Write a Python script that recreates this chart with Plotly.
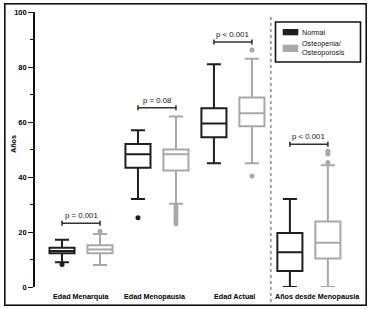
import plotly.graph_objects as go

# ---- data ----
categories = ["Edad Menarquia", "Edad Menopausia", "Edad Actual", "Años desde Menopausia"]
groups = ["Normal", "Osteopenia/<br>Osteoporosis"]

normal_low = [9, 32, 45, 0]
normal_q1 = [12.3, 43.4, 54.5, 5.8]
normal_med = [13.1, 48.3, 59.5, 12.6]
normal_q3 = [14.3, 52, 65, 19.6]
normal_high = [17.2, 57, 81, 32]
normal_out = [[8.2], [25.2], [], []]

osteo_low = [8, 30.3, 45, 0]
osteo_q1 = [12.3, 42.4, 58.5, 10.4]
osteo_med = [13.6, 48.3, 63.2, 16.1]
osteo_q3 = [15.2, 50, 68.9, 23.8]
osteo_high = [19.3, 62, 83, 44.3]
osteo_out = [[20.3], [23, 24, 25, 26, 27, 28, 29.3], [86.2, 40.4], [45.3, 48.4, 49.4]]

p_texts = ["p = 0.001", "p = 0.08", "p < 0.001", "p < 0.001"]
p_heights = [23.2, 65.2, 89.1, 51.9]

y_ticks = [0, 20, 40, 60, 80, 100]

# ---- style ----
DARK = "#1e1e1e"
GRAY = "#a8a8a8"
FONT = "Liberation Sans"
W, H = 372, 309
ML, MR, MT, MB = 35, 5, 12, 22
PW, PH = W - ML - MR, H - MT - MB

def px_x(p):
    return (p - ML) / PW

def px_y(p):
    return (H - MB - p) / PH

fig = go.Figure()

for i, cat in enumerate(categories):
    xn = 2 * i
    xo = 2 * i + 1
    for x, col, low, q1, med, q3, high, outs in [
        (xn, DARK, normal_low, normal_q1, normal_med, normal_q3, normal_high, normal_out),
        (xo, GRAY, osteo_low, osteo_q1, osteo_med, osteo_q3, osteo_high, osteo_out),
    ]:
        fig.add_trace(go.Box(
            x=[x], q1=[q1[i]], median=[med[i]], q3=[q3[i]],
            lowerfence=[low[i]], upperfence=[high[i]],
            fillcolor="white", line=dict(color=col, width=2),
            width=0.66, whiskerwidth=0.56, boxpoints=False,
            showlegend=False, hoverinfo="skip",
        ))
        if outs[i]:
            fig.add_trace(go.Scatter(
                x=[x] * len(outs[i]), y=outs[i], mode="markers",
                marker=dict(color=col, size=5), showlegend=False, hoverinfo="skip",
            ))
    # p-value bracket
    h = p_heights[i]
    fig.add_shape(type="line", x0=xn, x1=xo, y0=h, y1=h, line=dict(color="#333333", width=1.6))
    for xe in (xn, xo):
        fig.add_shape(type="line", x0=xe, x1=xe, y0=h - 0.9, y1=h + 0.9,
                      line=dict(color="#333333", width=1.6))
    fig.add_annotation(x=(xn + xo) / 2, y=h, text=p_texts[i], showarrow=False,
                       yanchor="bottom", yshift=1,
                       font=dict(family=FONT, size=7.8, color="#111111"))

# category labels
label_x = [0.52, 2.45, 4.53, 6.72]
for lx, cat in zip(label_x, categories):
    fig.add_annotation(x=lx, y=px_y(296), yref="paper", yanchor="middle", text="<b>" + cat + "</b>",
                       showarrow=False, font=dict(family=FONT, size=7.2, color="#000000"))

# y title
fig.add_annotation(x=px_x(13), xref="paper", y=px_y(144), yref="paper", text="<b>Años</b>",
                   xanchor="center", yanchor="middle",
                   textangle=-90, showarrow=False, font=dict(family=FONT, size=7.2, color="#000000"))

# dotted separator
fig.add_shape(type="line", x0=5.5, x1=5.5, y0=px_y(302), y1=px_y(15), yref="paper",
              line=dict(color="#555555", width=1, dash="dot"))

# outer frame (bordered empty annotation)
fig.add_annotation(x=px_x(185.5), xref="paper", y=px_y(154.5), yref="paper",
                   xanchor="center", yanchor="middle", text=" ", showarrow=False,
                   width=360, height=300, bordercolor="#111111", borderwidth=1.6, borderpad=0)

# legend
fig.add_shape(type="rect", xref="paper", yref="paper",
              x0=px_x(275.5), x1=px_x(360.5), y0=px_y(62), y1=px_y(22),
              line=dict(color="#111111", width=1.6), fillcolor="white")
for (y0, y1, col) in [(29, 35.3, DARK), (44.7, 52, GRAY)]:
    fig.add_shape(type="rect", xref="paper", yref="paper",
                  x0=px_x(282.7), x1=px_x(298.3), y0=px_y(y1), y1=px_y(y0),
                  line=dict(width=0), fillcolor=col)
fig.add_annotation(x=px_x(300), xref="paper", y=px_y(32), yref="paper", text=groups[0],
                   xanchor="left", yanchor="middle", showarrow=False,
                   font=dict(family=FONT, size=7.2, color="#111111"))
fig.add_annotation(x=px_x(300), xref="paper", y=px_y(48.5), yref="paper", text=groups[1],
                   xanchor="left", yanchor="middle", align="left", showarrow=False,
                   font=dict(family=FONT, size=7.2, color="#111111"))

fig.update_layout(
    width=W, height=H, margin=dict(l=ML, r=MR, t=MT, b=MB),
    plot_bgcolor="white", paper_bgcolor="white", showlegend=False,
    xaxis=dict(range=[-0.711, 8.03], visible=False),
    yaxis=dict(range=[0, 100], tickvals=y_ticks, ticktext=["<b>%d</b>" % v for v in y_ticks],
               showline=True, linecolor="#111111", linewidth=1.6, showgrid=False, zeroline=False,
               ticks="outside", ticklen=5, tickwidth=1.3, tickcolor="#111111",
               tickfont=dict(family=FONT, size=7.5, color="#000000"),
               minor=dict(dtick=10, ticks="outside", ticklen=3, tickwidth=1.2, tickcolor="#111111")),
)

fig.write_html("out.html", config={"displayModeBar": False},
               post_script="document.body.style.margin='0';document.body.style.overflow='hidden';")
